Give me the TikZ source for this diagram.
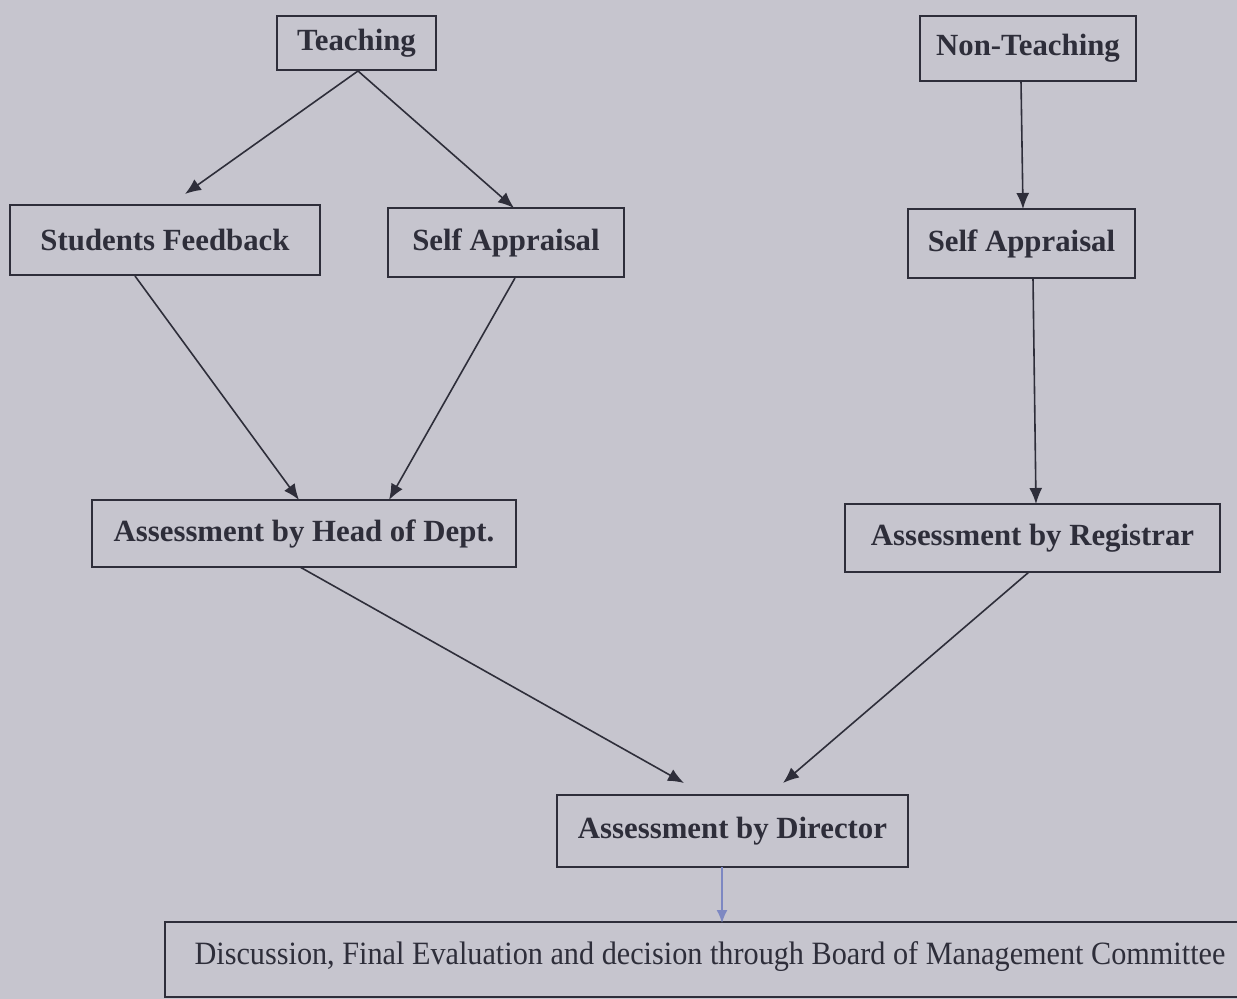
\documentclass[tikz,border=0pt]{standalone}
\usepackage{fontspec}
\setmainfont{Liberation Serif}
\usetikzlibrary{arrows.meta,calc}
\definecolor{bg}{HTML}{C6C5CE}
\definecolor{ink}{HTML}{2E2E3A}
\definecolor{blueink}{HTML}{7D88C2}
\begin{document}
\begin{tikzpicture}[x=0.5pt,y=-0.5pt,
  box/.style={draw=ink,line width=1pt,inner sep=0pt,font=\fontsize{15.4}{18}\selectfont\bfseries,text=ink},
  arr/.style={draw=ink,line width=0.8pt,-{Latex[length=8pt,width=6.5pt]}}]
\fill[bg] (0,0) rectangle (1237,999);
\useasboundingbox (0,0) rectangle (1237,999);
\node[box,minimum width=79.5pt,minimum height=27pt] (t) at (356.5,43) {Teaching};
\node[box,minimum width=108pt,minimum height=32.5pt] (nt) at (1028,48.5) {Non-Teaching};
\node[box,minimum width=155pt,minimum height=35pt] (sf) at (165,240) {Students Feedback};
\node[box,minimum width=118pt,minimum height=34.5pt] (sa1) at (506,242.5) {Self Appraisal};
\node[box,minimum width=113.5pt,minimum height=34.5pt] (sa2) at (1021.5,243.5) {Self Appraisal};
\node[box,minimum width=212pt,minimum height=33.5pt] (hod) at (304,533.5) {Assessment by Head of Dept.};
\node[box,minimum width=187.5pt,minimum height=34pt] (reg) at (1032.5,538) {Assessment by Registrar};
\node[box,minimum width=175.5pt,minimum height=36pt] (dir) at (732.5,831) {Assessment by Director};
\node[draw=ink,line width=1pt,inner sep=0pt,minimum width=545pt,minimum height=37.5pt] (bm) at (710,959.5) {};
\node[font=\fontsize{15.5}{18}\selectfont,text=ink,inner sep=0pt] (bmt) at (710,957) {\scalebox{0.975}[1.05]{Discussion, Final Evaluation and decision through Board of Management Committee}};
\coordinate (e1) at (185,194);
\coordinate (e2) at (514,208);
\coordinate (s3) at (135,276);
\coordinate (e3) at (299,500);
\coordinate (s4) at (515,278);
\coordinate (e4) at (389,500);
\coordinate (s5) at (1033,278);
\coordinate (e5) at (1036,504);
\coordinate (s6) at (300,567);
\coordinate (e6) at (684,783);
\coordinate (s7) at (1029,572);
\coordinate (e7) at (783,783);
\coordinate (s8) at (722,867);
\coordinate (e8) at (722,923);
\coordinate (s1) at (358,71);
\coordinate (s2) at (1021,81);
\coordinate (e9) at (1023,209);
\draw[arr] (s1) -- (e1);
\draw[arr] (s1) -- (e2);
\draw[arr] (s2) -- (e9);
\draw[arr] (s3) -- (e3);
\draw[arr] (s4) -- (e4);
\draw[arr] (s5) -- (e5);
\draw[arr] (s6) -- (e6);
\draw[arr] (s7) -- (e7);
\draw[draw=blueink,line width=0.8pt,-{Latex[length=6.5pt,width=5.5pt]}] (s8) -- (e8);
\end{tikzpicture}
\end{document}
